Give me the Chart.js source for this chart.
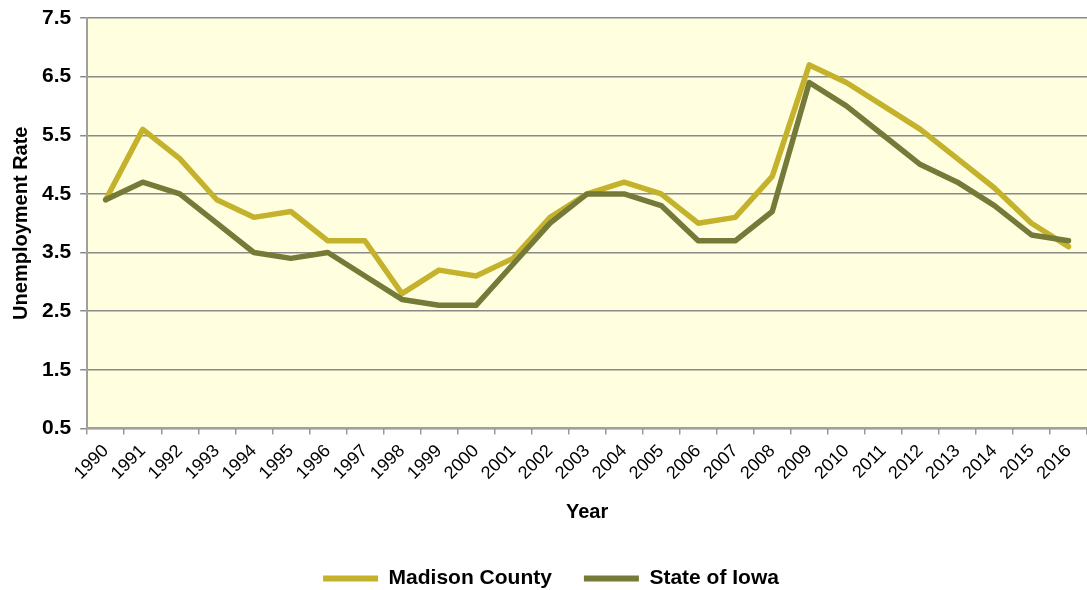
<!DOCTYPE html>
<html>
<head>
<meta charset="utf-8">
<script src="https://cdn.jsdelivr.net/npm/chart.js@4"></script>
<style>
  html, body { margin: 0; padding: 0; background: #ffffff; }
  #wrap { width: 1087px; height: 590px; }
</style>
</head>
<body>
<div id="wrap"><canvas id="chart"></canvas></div>
<script>
const years = ["1990", "1991", "1992", "1993", "1994", "1995", "1996", "1997", "1998", "1999",
  "2000", "2001", "2002", "2003", "2004", "2005", "2006", "2007", "2008", "2009",
  "2010", "2011", "2012", "2013", "2014", "2015", "2016"];

const madisonCounty = [4.4, 5.6, 5.1, 4.4, 4.1, 4.2, 3.7, 3.7, 2.8, 3.2,
  3.1, 3.4, 4.1, 4.5, 4.7, 4.5, 4.0, 4.1, 4.8, 6.7,
  6.4, 6.0, 5.6, 5.1, 4.6, 4.0, 3.6];

const stateOfIowa = [4.4, 4.7, 4.5, 4.0, 3.5, 3.4, 3.5, 3.1, 2.7, 2.6,
  2.6, 3.3, 4.0, 4.5, 4.5, 4.3, 3.7, 3.7, 4.2, 6.4,
  6.0, 5.5, 5.0, 4.7, 4.3, 3.8, 3.7];

const yTicks = [0.5, 1.5, 2.5, 3.5, 4.5, 5.5, 6.5, 7.5];

const fontFamily = "'Liberation Sans', Arial, sans-serif";

// fills the plot area with the pale yellow background
const plotBackground = {
  id: "plotBackground",
  beforeDraw: (chart) => {
    const { ctx, chartArea } = chart;
    ctx.save();
    ctx.fillStyle = "#FFFFE0";
    ctx.fillRect(chartArea.left, chartArea.top, chartArea.width, chartArea.height);
    ctx.restore();
  },
};

const ctx = document.getElementById("chart").getContext("2d");

new Chart(ctx, {
  type: "line",
  data: {
    labels: years,
    datasets: [
      {
        label: "Madison County",
        data: madisonCounty,
        borderColor: "#C4B22D",
        backgroundColor: "#C4B22D",
        borderWidth: 5.5,
        pointRadius: 0,
        tension: 0,
        borderJoinStyle: "round",
        borderCapStyle: "round",
        order: 1,
      },
      {
        label: "State of Iowa",
        data: stateOfIowa,
        borderColor: "#767A38",
        backgroundColor: "#767A38",
        borderWidth: 5.5,
        pointRadius: 0,
        tension: 0,
        borderJoinStyle: "round",
        borderCapStyle: "round",
        order: 0,
      },
    ],
  },
  options: {
    responsive: true,
    maintainAspectRatio: false,
    animation: false,
    // negative padding lets the plot run past the right edge and the legend sit low
    layout: { padding: { top: 18, left: 9, right: -6, bottom: -9 } },
    plugins: {
      tooltip: { enabled: false },
      legend: {
        position: "bottom",
        labels: {
          font: { family: fontFamily, size: 21, weight: "bold" },
          color: "#000",
          boxWidth: 55,
          boxHeight: 6,
          padding: 32,
          sort: (a, b) => a.datasetIndex - b.datasetIndex,
          generateLabels: (chart) => {
            const items = Chart.defaults.plugins.legend.labels.generateLabels(chart);
            items.forEach((item) => { item.lineWidth = 0; });
            return items;
          },
        },
      },
    },
    scales: {
      x: {
        offset: true,
        afterFit: (axis) => {
          axis.paddingRight = 0;
        },
        grid: {
          offset: true,
          drawOnChartArea: false,
          tickLength: 6,
          color: "#999999",
          lineWidth: 1.5,
        },
        border: { color: "#A0A0A0", width: 2 },
        ticks: {
          autoSkip: false,
          maxRotation: 45,
          minRotation: 45,
          color: "#000",
          font: { family: fontFamily, size: 18 },
          padding: 6,
        },
        title: {
          display: true,
          text: "Year",
          color: "#000",
          font: { family: fontFamily, size: 20, weight: "bold" },
          padding: { top: 10, bottom: 12 },
        },
      },
      y: {
        min: 0.5,
        max: 7.5,
        afterBuildTicks: (axis) => {
          axis.ticks = yTicks.map((v) => ({ value: v }));
        },
        // the tick padding would otherwise push the plot top down
        afterFit: (axis) => {
          axis.paddingTop = 0;
          axis.paddingBottom = 0;
        },
        grid: {
          color: "#8A8A8A",
          lineWidth: 1.5,
          tickLength: 7,
        },
        border: { color: "#A0A0A0", width: 2 },
        ticks: {
          color: "#000",
          font: { family: fontFamily, size: 21, weight: "bold" },
          padding: 9,
          callback: (value) => value.toFixed(1),
        },
        title: {
          display: true,
          text: "Unemployment Rate",
          color: "#000",
          font: { family: fontFamily, size: 20, weight: "bold" },
          padding: { top: 0, bottom: 0 },
        },
      },
    },
  },
  plugins: [plotBackground],
});
</script>
</body>
</html>
